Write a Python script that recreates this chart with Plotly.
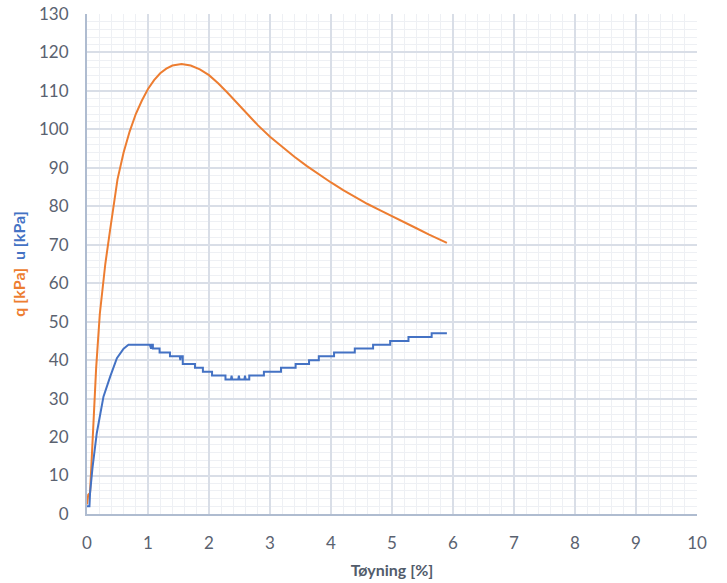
import plotly.graph_objects as go

# q (deviator stress) vs strain
q_strain = [0.0, 0.01, 0.02, 0.05, 0.07, 0.09, 0.1, 0.15, 0.21, 0.3, 0.38, 0.5, 0.6, 0.7, 0.8, 0.9,
            1.0, 1.1, 1.2, 1.3, 1.4, 1.55, 1.7, 1.85, 2.0, 2.15, 2.3, 2.45, 2.6, 2.8, 3.0,
            3.2, 3.4, 3.6, 3.8, 4.0, 4.2, 4.4, 4.6, 4.8, 5.0, 5.2, 5.4, 5.6, 5.8, 5.9]
q_kpa = [2.5, 5, 5, 5.5, 12, 19, 22, 38, 52, 65, 74, 87, 94, 99.5, 104, 107.5,
         110.5, 112.8, 114.6, 115.8, 116.6, 117, 116.6, 115.6, 114.1, 112.0, 109.6, 107.0, 104.4, 101.1, 98.1,
         95.4, 92.9, 90.5, 88.3, 86.2, 84.2, 82.3, 80.6, 79.0, 77.5, 75.9, 74.3, 72.7, 71.2, 70.5]

# u (pore pressure) vs strain
u_strain = [0.0, 0.04, 0.05, 0.09, 0.16, 0.27, 0.38, 0.49, 0.6, 0.68,
            1.03, 1.05, 1.06, 1.08, 1.08, 1.19, 1.19, 1.36, 1.36, 1.52, 1.53, 1.54, 1.57, 1.57,
            1.77, 1.77, 1.9, 1.9, 2.05, 2.05, 2.27, 2.27, 2.36, 2.37, 2.38, 2.48, 2.49, 2.5,
            2.58, 2.59, 2.6, 2.66, 2.66, 2.9, 2.9, 3.18, 3.18, 3.42, 3.42, 3.64, 3.64,
            3.8, 3.8, 4.05, 4.05, 4.39, 4.39, 4.69, 4.69, 4.97, 4.97, 5.27, 5.27, 5.65, 5.65, 5.9]
u_kpa = [2, 2, 5.4, 12, 21, 30.5, 35.7, 40.5, 43, 44,
         44, 43, 44, 44, 43, 43, 42, 42, 41, 41, 40, 41, 41, 39,
         39, 38, 38, 37, 37, 36, 36, 35, 35, 36, 35, 35, 36, 35,
         35, 36, 35, 35, 36, 36, 37, 37, 38, 38, 39, 39, 40,
         40, 41, 41, 42, 42, 43, 43, 44, 44, 45, 45, 46, 46, 47, 47]

x_ticks = list(range(0, 11))
y_ticks = list(range(0, 131, 10))

ORANGE = "#ED7D31"
BLUE = "#4472C4"
TICK_COL = "#5A6270"
TITLE_COL = "#525C6B"
FONT = "Lato"

fig = go.Figure()
fig.add_trace(go.Scatter(x=q_strain, y=q_kpa, mode="lines", line=dict(color=ORANGE, width=2),
                         name="q", showlegend=False))
fig.add_trace(go.Scatter(x=u_strain, y=u_kpa, mode="lines", line=dict(color=BLUE, width=2),
                         name="u", showlegend=False))

fig.update_layout(
    width=727, height=583,
    margin=dict(l=87, r=30, t=14, b=69),
    paper_bgcolor="white", plot_bgcolor="white",
    font=dict(family=FONT, color=TICK_COL, size=17),
)
fig.update_xaxes(
    range=[0, 10], tickvals=x_ticks, ticktext=[str(v) for v in x_ticks],
    showgrid=True, gridcolor="#D9DEE7", gridwidth=1.5,
    minor=dict(dtick=0.2, showgrid=True, gridcolor="#EEF0F4", gridwidth=1),
    showline=True, linecolor="#AFBCD0", linewidth=2, zeroline=False,
    ticks="", ticklabelstandoff=13, automargin=False, ticklabeloverflow="allow",
    tickfont=dict(family=FONT, size=17, color=TICK_COL),
    title=dict(text="<b>Tøyning [%]</b>", font=dict(family=FONT, size=16, color=TITLE_COL), standoff=12),
)
fig.update_yaxes(
    range=[0, 130], tickvals=y_ticks, ticktext=[str(v) for v in y_ticks],
    showgrid=True, gridcolor="#D9DEE7", gridwidth=1.5,
    minor=dict(dtick=2, showgrid=True, gridcolor="#EEF0F4", gridwidth=1),
    showline=True, linecolor="#AFBCD0", linewidth=2, zeroline=False,
    ticks="", ticklabelstandoff=13, automargin=False, ticklabeloverflow="allow",
    tickfont=dict(family=FONT, size=17, color=TICK_COL),
    title=dict(text=f"<b><span style='color:{ORANGE}'>q [kPa]</span>  <span style='color:{BLUE}'>u [kPa]</span></b>",
               font=dict(family=FONT, size=16), standoff=9),
)

# remove the page's default 8px body margin so the figure fills the window exactly
fig.write_html("out.html", config={"displayModeBar": False},
               post_script="document.body.style.margin='0';document.body.style.overflow='hidden';")
